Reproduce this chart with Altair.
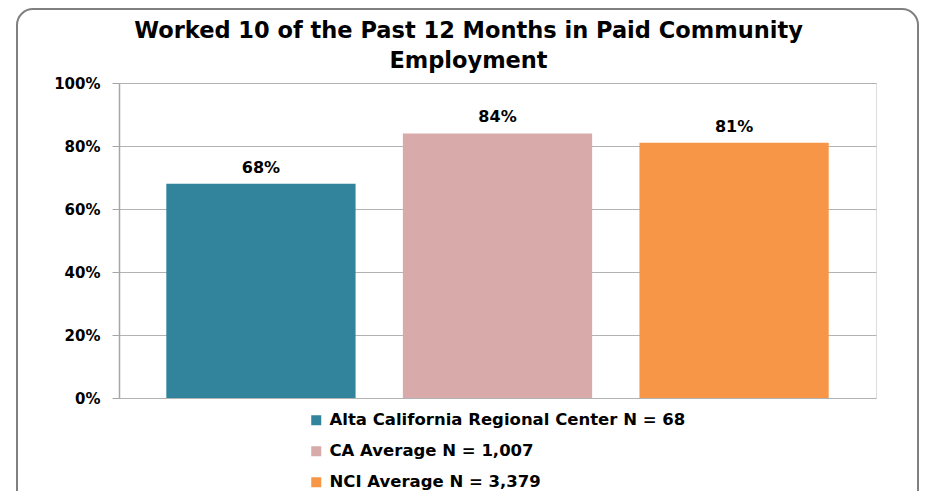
import altair as alt
import pandas as pd

categories = [
    "Alta California Regional Center N = 68",
    "CA Average N = 1,007",
    "NCI Average N = 3,379",
]
values = [0.68, 0.84, 0.81]
value_labels = ["68%", "84%", "81%"]
colors = ["#31849B", "#D9AAAA", "#F79646"]
y_ticks = [0, 0.2, 0.4, 0.6, 0.8, 1.0]
title_lines = ["Worked 10 of the Past 12 Months in Paid Community", "Employment"]

df = pd.DataFrame({"group": categories, "value": values, "label": value_labels})
FONT = "DejaVu Sans"

x_enc = alt.X(
    "group:N",
    sort=categories,
    axis=None,
    scale=alt.Scale(paddingInner=0.2, paddingOuter=0.2),
)
y_enc = alt.Y(
    "value:Q",
    scale=alt.Scale(domain=[0, 1], nice=False),
    axis=alt.Axis(
        values=y_ticks,
        format=".0%",
        title=None,
        labelFont=FONT,
        labelFontSize=15,
        labelFontWeight="bold",
        labelColor="#000000",
        labelPadding=12,
        tickSize=7,
        tickColor="#A6A6A6",
        domainColor="#A6A6A6",
        domainWidth=1.5,
        gridColor="#B2B2B2",
        gridWidth=1.2,
    ),
)

frame = alt.Chart(pd.DataFrame({"a": [0]})).mark_rect(
    filled=False, stroke="#808080", strokeWidth=2, cornerRadius=16, clip=False
).encode(
    x=alt.value(-102), x2=alt.value(799), y=alt.value(-74), y2=alt.value(440)
)

bars = alt.Chart(df).mark_bar().encode(
    x=x_enc,
    y=y_enc,
    color=alt.Color(
        "group:N",
        scale=alt.Scale(domain=categories, range=colors),
        legend=alt.Legend(
            orient="none",
            legendX=189,
            legendY=329,
            title=None,
            direction="vertical",
            symbolType="square",
            symbolSize=100,
            symbolStrokeWidth=0,
            symbolOpacity=1,
            labelFont=FONT,
            labelFontSize=16.5,
            labelFontWeight="bold",
            labelColor="#000000",
            labelOffset=5,
            labelLimit=700,
            rowPadding=14,
            padding=0,
        ),
    ),
)

texts = alt.Chart(df).mark_text(
    dy=-11, baseline="alphabetic", font=FONT, fontSize=16, fontWeight="bold", color="#000000"
).encode(x=x_enc, y=alt.Y("value:Q"), text="label:N")

chart = (
    alt.layer(frame, bars, texts)
    .properties(
        width=757,
        height=315,
        autosize=alt.AutoSizeParams(type="none"),
        padding={"left": 111, "top": 75, "right": 44, "bottom": 93},
        title=alt.TitleParams(
            text=title_lines,
            font=FONT,
            fontSize=22.5,
            fontWeight="bold",
            color="#000000",
            anchor="middle",
            dx=-29,
            offset=-64,
            lineHeight=30,
        ),
    )
    .configure_view(fill="#EBEBEB", strokeWidth=0)
    .configure(background="#FFFFFF")
)

chart.save("out.html", embed_options={"renderer": "svg", "actions": False})
